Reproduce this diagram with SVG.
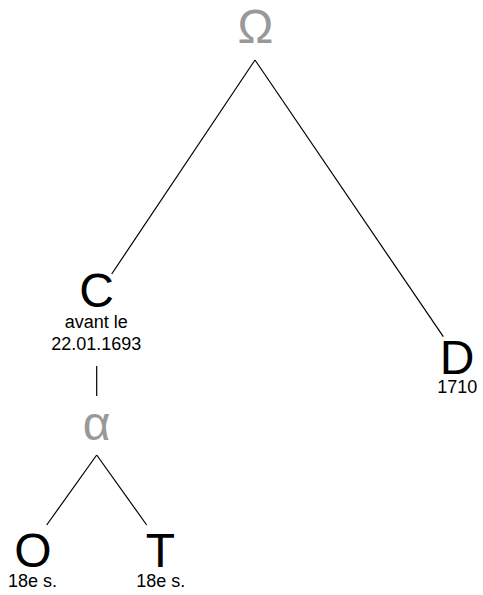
<svg xmlns="http://www.w3.org/2000/svg" width="483" height="595" viewBox="0 0 483 595">
<style>
.big{font-family:"Liberation Sans",Arial,sans-serif;font-size:48px;text-anchor:middle;fill:#000}
.hyp{fill:#999}
.small{font-family:"Liberation Sans",Arial,sans-serif;font-size:18px;text-anchor:middle;fill:#000}
.edge{stroke:#000;stroke-width:1.2;fill:none}
</style>
<rect width="483" height="595" fill="#fff"/>
<g id="connectors">
<line class="edge" x1="255" y1="60" x2="111.7" y2="274"/>
<line class="edge" x1="255" y1="60" x2="443.3" y2="336.7"/>
<line class="edge" x1="96.7" y1="366" x2="96.7" y2="396"/>
<line class="edge" x1="96.7" y1="455" x2="46.7" y2="525"/>
<line class="edge" x1="96.7" y1="455" x2="146.7" y2="525"/>
</g>
<g id="node-omega"><text class="big hyp" x="255.5" y="43">Ω</text></g>
<g id="node-C"><text class="big" x="96.5" y="307">C</text><text class="small" x="96.3" y="328">avant le</text><text class="small" x="96.2" y="350">22.01.1693</text></g>
<g id="node-D"><text class="big" x="457" y="374">D</text><text class="small" x="457.3" y="393">1710</text></g>
<g id="node-alpha"><text class="big hyp" x="96.5" y="440">α</text></g>
<g id="node-O"><text class="big" x="32.8" y="567">O</text><text class="small" x="32.5" y="587">18e s.</text></g>
<g id="node-T"><text class="big" x="160.5" y="567">T</text><text class="small" x="160.8" y="587">18e s.</text></g>
</svg>
